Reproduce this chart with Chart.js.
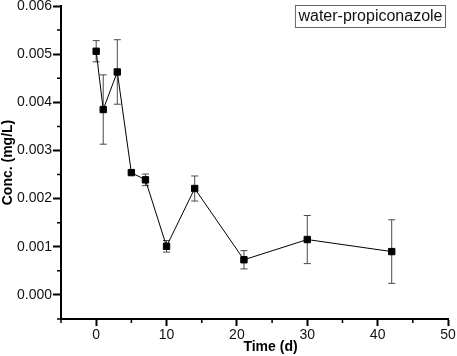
<!DOCTYPE html>
<html>
<head>
<meta charset="utf-8">
<script src="https://cdn.jsdelivr.net/npm/chart.js@4/dist/chart.umd.min.js"></script>
<style>
html, body { margin: 0; padding: 0; background: #fff; }
#wrap { width: 457px; height: 356px; }
</style>
</head>
<body>
<div id="wrap"><canvas id="mycanvas"></canvas></div>
<script>
// data
var seriesName = 'water-propiconazole';
var xTitle = 'Time (d)';
var yTitle = 'Conc. (mg/L)';
var days = [0, 1, 3, 5, 7, 10, 14, 21, 30, 42];
var conc = [0.00506, 0.00385, 0.00463, 0.00254, 0.00239, 0.00101, 0.00221, 0.00073, 0.00115, 0.00090];
var errs = [0.00022, 0.00072, 0.00067, 0.00003, 0.00012, 0.00012, 0.00026, 0.00019, 0.00050, 0.00066];
var xTicks = [0, 10, 20, 30, 40, 50];
var xMinor = [-5, 5, 15, 25, 35, 45];
var yTicks = [0, 0.001, 0.002, 0.003, 0.004, 0.005, 0.006];
var yMinor = [-0.0005, 0.0005, 0.0015, 0.0025, 0.0035, 0.0045, 0.0055];

var font = 'Liberation Sans, Arial, sans-serif';

var points = [];
for (var i in days) {
    points.push({x: days[i], y: conc[i]});
}

// error bars, drawn under the markers
var errorBars = {
    id: 'errorBars',
    beforeDatasetsDraw: function(chart) {
        var ctx = chart.ctx;
        var xs = chart.scales.x, ys = chart.scales.y;
        ctx.save();
        ctx.strokeStyle = '#4a4a4a';
        ctx.lineWidth = 1;
        for (var i = 0; i < days.length; i++) {
            var px = xs.getPixelForValue(days[i]);
            var top = ys.getPixelForValue(conc[i] + errs[i]);
            var bot = ys.getPixelForValue(conc[i] - errs[i]);
            ctx.beginPath();
            ctx.moveTo(px, top); ctx.lineTo(px, bot);
            ctx.moveTo(px - 3.5, top); ctx.lineTo(px + 3.5, top);
            ctx.moveTo(px - 3.5, bot); ctx.lineTo(px + 3.5, bot);
            ctx.stroke();
        }
        ctx.restore();
    }
};

// short minor ticks on both axes, plus the x title (sits right of centre in the original)
var axisExtras = {
    id: 'axisExtras',
    afterDraw: function(chart) {
        var ctx = chart.ctx, a = chart.chartArea;
        var xs = chart.scales.x, ys = chart.scales.y;
        ctx.save();
        ctx.strokeStyle = '#000';
        ctx.lineWidth = 1.5;
        ctx.beginPath();
        xMinor.forEach(function(v) {
            var px = xs.getPixelForValue(v);
            ctx.moveTo(px, a.bottom); ctx.lineTo(px, a.bottom + 4);
        });
        yMinor.forEach(function(v) {
            var py = ys.getPixelForValue(v);
            ctx.moveTo(a.left - 4, py); ctx.lineTo(a.left, py);
        });
        ctx.stroke();

        ctx.font = 'bold 14px ' + font;
        ctx.fillStyle = '#000';
        ctx.textAlign = 'center';
        ctx.textBaseline = 'middle';
        ctx.fillText(xTitle, (a.left + a.right) / 2 + 16, 347);
        ctx.restore();
    }
};

// boxed series label in the top right corner
var legendBox = {
    id: 'legendBox',
    afterDraw: function(chart) {
        var ctx = chart.ctx;
        ctx.save();
        ctx.font = '16px ' + font;
        var w = ctx.measureText(seriesName).width;
        var right = 446, top = 5, h = 22;
        ctx.strokeStyle = '#666';
        ctx.lineWidth = 1;
        ctx.strokeRect(right - w - 6.5, top + 0.5, w + 6, h);
        ctx.fillStyle = '#111';
        ctx.textBaseline = 'middle';
        ctx.fillText(seriesName, right - w - 3.5, top + h / 2 + 1);
        ctx.restore();
    }
};

Chart.defaults.font.family = font;
Chart.defaults.color = '#111';

var ctx = document.getElementById('mycanvas');
var myChart = new Chart(ctx, {
    type: 'line',
    data: {
        datasets: [{
            label: seriesName,
            data: points,
            borderColor: '#000',
            borderWidth: 1,
            tension: 0,
            pointStyle: 'rect',
            pointRadius: 4.5,
            pointBorderWidth: 1,
            pointBackgroundColor: '#000',
            pointBorderColor: '#000'
        }]
    },
    options: {
        responsive: true,
        maintainAspectRatio: false,
        animation: false,
        layout: { padding: { top: 6, right: 9, left: 0, bottom: 0 } },
        plugins: {
            legend: { display: false },
            tooltip: { enabled: false }
        },
        scales: {
            x: {
                type: 'linear',
                min: -5,
                max: 50,
                afterBuildTicks: function(scale) {
                    scale.ticks = xTicks.map(function(v) { return {value: v}; });
                },
                afterFit: function(scale) {
                    scale.height = 37;
                    scale.paddingLeft = 0;
                    scale.paddingRight = 0;
                },
                grid: { drawOnChartArea: false, tickLength: 7, tickWidth: 2, tickColor: '#000' },
                border: { color: '#000', width: 2 },
                ticks: { font: { size: 14 }, padding: 1, maxRotation: 0, color: '#111' }
            },
            y: {
                type: 'linear',
                min: -0.0005,
                max: 0.006,
                afterBuildTicks: function(scale) {
                    scale.ticks = yTicks.map(function(v) { return {value: v}; });
                },
                afterFit: function(scale) {
                    scale.width = 61;
                    scale.paddingTop = 0;
                    scale.paddingBottom = 0;
                },
                grid: { drawOnChartArea: false, tickLength: 8, tickWidth: 2, tickColor: '#000' },
                border: { color: '#000', width: 2 },
                ticks: {
                    font: { size: 14 },
                    padding: 1,
                    color: '#111',
                    callback: function(value) { return value.toFixed(3); }
                },
                title: { display: true, text: yTitle, font: { size: 14, weight: 'bold' }, padding: 0, color: '#000' }
            }
        }
    },
    plugins: [errorBars, axisExtras, legendBox]
});
</script>
</body>
</html>
